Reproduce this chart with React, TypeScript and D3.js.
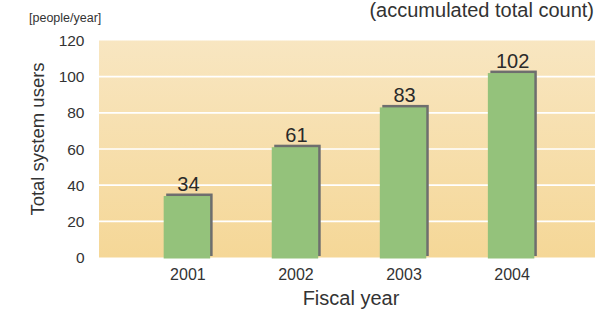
import React, { useRef, useEffect } from "react";
import * as d3 from "d3";

const years = ["2001", "2002", "2003", "2004"];
const users = [34, 61, 83, 102];
const yTicks = [0, 20, 40, 60, 80, 100, 120];

const App = () => {
  const svgRef = useRef<SVGSVGElement>(null);

  useEffect(() => {
    const width = 595;
    const height = 312;
    const plot = { left: 99, right: 595, top: 40.5, bottom: 257.5 };

    const svg = d3.select(svgRef.current);
    svg.selectAll("*").remove();

    const font = "'Liberation Sans', Arial, Helvetica, sans-serif";

    const y = d3.scaleLinear().domain([0, 120]).range([plot.bottom, plot.top]);
    const x = d3
      .scaleBand()
      .domain(years)
      .range([plot.left + 2, plot.right + 2])
      .paddingInner(0.57)
      .paddingOuter(0.58);

    const defs = svg.append("defs");
    const grad = defs
      .append("linearGradient")
      .attr("id", "bg")
      .attr("x1", 0)
      .attr("y1", 0)
      .attr("x2", 0)
      .attr("y2", 1);
    grad.append("stop").attr("offset", "0%").attr("stop-color", "#f8e6c1");
    grad.append("stop").attr("offset", "100%").attr("stop-color", "#f5d797");

    svg
      .append("rect")
      .attr("x", plot.left)
      .attr("y", plot.top)
      .attr("width", plot.right - plot.left)
      .attr("height", plot.bottom - plot.top)
      .attr("fill", "url(#bg)");

    // white gridlines
    svg
      .append("g")
      .selectAll("line")
      .data(yTicks.filter(t => t > 0 && t < 120))
      .enter()
      .append("line")
      .attr("x1", plot.left)
      .attr("x2", plot.right)
      .attr("y1", d => y(d))
      .attr("y2", d => y(d))
      .attr("stroke", "#ffffff")
      .attr("stroke-width", 1.6);

    // y tick labels
    svg
      .append("g")
      .selectAll("text")
      .data(yTicks)
      .enter()
      .append("text")
      .attr("x", 84.5)
      .attr("y", d => y(d) + 5.5)
      .attr("text-anchor", "end")
      .attr("font-family", font)
      .attr("font-size", 15.5)
      .attr("fill", "#333")
      .text(d => d);

    const bars = svg.append("g");
    const data = years.map((yr, i) => ({ year: yr, value: users[i] }));

    // shadow
    bars
      .selectAll(".shadow")
      .data(data)
      .enter()
      .append("rect")
      .attr("class", "shadow")
      .attr("x", d => (x(d.year) as number) + 2.5)
      .attr("y", d => y(d.value) - 2.5)
      .attr("width", x.bandwidth())
      .attr("height", d => y(0) - 1.5 - (y(d.value) - 2.5))
      .attr("fill", "#6e6e6e");

    bars
      .selectAll(".bar")
      .data(data)
      .enter()
      .append("rect")
      .attr("class", "bar")
      .attr("x", d => x(d.year) as number)
      .attr("y", d => y(d.value))
      .attr("width", x.bandwidth())
      .attr("height", d => y(0) + 1 - y(d.value))
      .attr("fill", "#94c27b");

    // value labels
    svg
      .append("g")
      .selectAll("text")
      .data(data)
      .enter()
      .append("text")
      .attr("x", d => (x(d.year) as number) + x.bandwidth() / 2 + 1.5)
      .attr("y", d => y(d.value) - 5)
      .attr("text-anchor", "middle")
      .attr("font-family", font)
      .attr("font-size", 20)
      .attr("fill", "#2a2a2a")
      .text(d => d.value);

    // x tick labels
    svg
      .append("g")
      .selectAll("text")
      .data(years)
      .enter()
      .append("text")
      .attr("x", d => (x(d) as number) + x.bandwidth() / 2 + 1)
      .attr("y", 280)
      .attr("text-anchor", "middle")
      .attr("font-family", font)
      .attr("font-size", 16)
      .attr("fill", "#333")
      .text(d => d);

    svg
      .append("text")
      .attr("x", 351)
      .attr("y", 305)
      .attr("text-anchor", "middle")
      .attr("font-family", font)
      .attr("font-size", 20)
      .attr("fill", "#333")
      .text("Fiscal year");

    svg
      .append("text")
      .attr("transform", "rotate(-90)")
      .attr("x", -139)
      .attr("y", 44)
      .attr("text-anchor", "middle")
      .attr("font-family", font)
      .attr("font-size", 18.5)
      .attr("fill", "#333")
      .text("Total system users");

    svg
      .append("text")
      .attr("x", 29)
      .attr("y", 22)
      .attr("font-family", font)
      .attr("font-size", 12.5)
      .attr("fill", "#333")
      .text("[people/year]");

    svg
      .append("text")
      .attr("x", 594)
      .attr("y", 17)
      .attr("text-anchor", "end")
      .attr("font-family", font)
      .attr("font-size", 20)
      .attr("fill", "#333")
      .text("(accumulated total count)");

    svg.attr("width", width).attr("height", height);
  }, []);

  return (
    <div style={{ position: "absolute", left: 0, top: 0 }}>
      <svg ref={svgRef} style={{ display: "block" }}></svg>
    </div>
  );
};

export default App;
